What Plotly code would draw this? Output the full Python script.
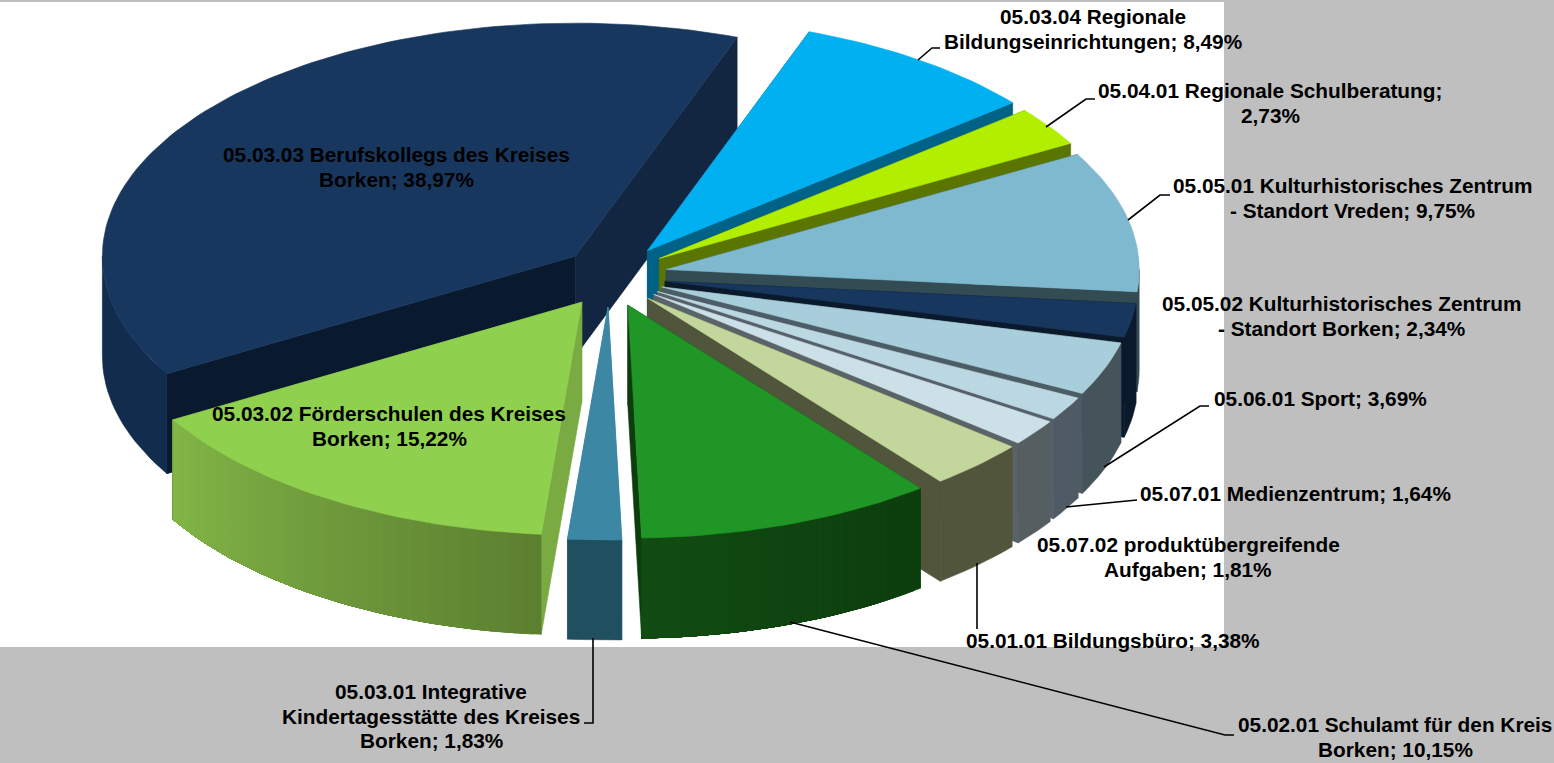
import math
import plotly.graph_objects as go

W, H = 1554, 763
# ---- data (clockwise, starting at the first angle below)
categories = [
    "05.03.04 Regionale<br>Bildungseinrichtungen",
    "05.04.01 Regionale Schulberatung;<br>",
    "05.05.01 Kulturhistorisches Zentrum<br>- Standort Vreden",
    "05.05.02 Kulturhistorisches Zentrum<br>- Standort Borken",
    "05.06.01 Sport",
    "05.07.01 Medienzentrum",
    "05.07.02 produktübergreifende<br>Aufgaben",
    "05.01.01 Bildungsbüro",
    "05.02.01 Schulamt für den Kreis<br>Borken",
    "05.03.01 Integrative<br>Kindertagesstätte des Kreises<br>Borken",
    "05.03.02 Förderschulen des Kreises<br>Borken",
    "05.03.03 Berufskollegs des Kreises<br>Borken",
]
values = [8.49, 2.73, 9.75, 2.34, 3.69, 1.64, 1.81, 3.38, 10.15, 1.83, 15.22, 38.97]

# ---- styles
top_colors = ["#00b0f0", "#b2ee00", "#7fb9d0", "#17375e", "#a9cedb", "#bbd7e2", "#cce0e8",
              "#c3d69b", "#1f9625", "#3c87a3", "#8fd04f", "#17375e"]
wall_left = ["#006286", "#5a7500", "#334b52", "#0a1a2c", "#45535a", "#4f5a64", "#555e60",
             "#50553c", "#114c13", "#204f5f", "#82b647", "#122c4e"]
wall_right = ["#006286", "#5a7500", "#334b52", "#0a1a2c", "#45535a", "#4f5a64", "#555e60",
              "#50553c", "#0d3d0d", "#204f5f", "#5c7f30", "#122c4e"]
cut_start = ["#006286", "#5a7500", "#334b52", "#0a1a2c", "#4d5d66", "#55606a", "#5a6468",
             "#50553c", "#0d3d0d", "#3c87a3", "#79ab42", "#0a1a2e"]
cut_end = ["#006286", "#5a7500", "#334b52", "#0a1a2c", "#4d5d66", "#55606a", "#5a6468",
           "#50553c", "#0d3d0d", "#3c87a3", "#79ab42", "#122642"]
draw_order = [11, 0, 1, 2, 3, 4, 5, 6, 7, 8, 10, 9]
label_pos = [(1093, 29), (1270, 103), (1352, 198), (1341, 316), (1320, 398), (1295, 493),
             (1188, 557), (1113, 640), (1395, 737), (431, 716), (389, 426), (396, 167)]
leaders = [
    [(918, 60), (932, 48), (940, 48)],
    [(1046, 127), (1086, 99), (1095, 99)],
    [(1128, 220), (1160, 195), (1170, 195)],
    [(1104, 467), (1200, 406), (1209, 406)],
    [(1066, 507), (1132, 500), (1137, 500)],
    [(977, 563), (977, 629)],
    [(790, 622), (1225, 735), (1234, 735)],
    [(593, 638), (593, 723), (584, 723)],
]

# ---- pie geometry
START = 20.0
CX, CY = 613.5, 276
RX, RY = 473, 233
EX, EY = 53, 31
SKEW = 4
DEPTH = 100
BG = "#bfbfbf"
LINE_PITCH = 24.7


def mix(a, b, t):
    ca = [int(a[i:i + 2], 16) for i in (1, 3, 5)]
    cb = [int(b[i:i + 2], 16) for i in (1, 3, 5)]
    return "#%02x%02x%02x" % tuple(round(x + (y - x) * t) for x, y in zip(ca, cb))


fig = go.Figure()


def poly(pts, color):
    xs = [p[0] for p in pts] + [pts[0][0]]
    ys = [p[1] for p in pts] + [pts[0][1]]
    fig.add_trace(go.Scatter(x=xs, y=ys, mode="lines", fill="toself", fillcolor=color,
                             line=dict(color=color, width=0.6), hoverinfo="skip",
                             showlegend=False))


edges = [START]
for v in values:
    edges.append(edges[-1] + v * 3.6)

for i in draw_order:
    a0, a1 = edges[i], edges[i + 1]
    mid = math.radians((a0 + a1) / 2)
    ax = CX + EX * math.sin(mid) + SKEW * math.cos(mid)
    ay = CY - EY * math.cos(mid)

    def rim(deg):
        t = math.radians(deg)
        return (ax + RX * math.sin(t), ay - RY * math.cos(t))

    def down(p):
        return (p[0], p[1] + DEPTH)

    p0, p1 = rim(a0), rim(a1)
    apex = (ax, ay)
    poly([apex, p0, down(p0), down(apex)], cut_start[i])
    poly([apex, p1, down(p1), down(apex)], cut_end[i])
    # outer wall, only where it faces the viewer
    w0, w1 = max(a0, 90), min(a1, 270)
    if w1 > w0:
        n = 1 if wall_left[i] == wall_right[i] else max(1, math.ceil(w1 - w0))
        for k in range(n):
            d0 = w0 + (w1 - w0) * k / n
            m = max(2, math.ceil((w1 - d0) / 1.5))
            arc = [rim(d0 + (w1 - d0) * j / m) for j in range(m + 1)]
            poly(arc + [down(q) for q in reversed(arc)],
                 mix(wall_right[i], wall_left[i], (k + .5) / n))
    n = max(2, math.ceil((a1 - a0) / 1.5))
    poly([apex] + [rim(a0 + (a1 - a0) * k / n) for k in range(n + 1)], top_colors[i])

for pts in leaders:
    fig.add_trace(go.Scatter(x=[p[0] for p in pts], y=[p[1] for p in pts], mode="lines",
                             line=dict(color="#000000", width=1.6), hoverinfo="skip",
                             showlegend=False))

annotations = []
for cat, val, (lx, ly) in zip(categories, values, label_pos):
    num = f"{val:.2f}".replace(".", ",") + "%"
    text = cat + num if cat.endswith(";<br>") else f"{cat}; {num}"
    lines = text.split("<br>")
    for j, line in enumerate(lines):
        annotations.append(dict(
            x=lx, y=ly + (j - (len(lines) - 1) / 2) * LINE_PITCH, text="<b>" + line + "</b>",
            showarrow=False, xanchor="center", yanchor="middle", align="center",
            font=dict(family="Liberation Sans", size=20.8, color="#000000")))

fig.update_layout(
    width=W, height=H, autosize=False,
    margin=dict(l=0, r=0, t=0, b=0, pad=0),
    paper_bgcolor=BG, plot_bgcolor=BG,
    xaxis=dict(range=[0, W], visible=False, fixedrange=True),
    yaxis=dict(range=[H, 0], visible=False, fixedrange=True),
    shapes=[dict(type="rect", xref="x", yref="y", x0=0, x1=1224, y0=2, y1=647,
                 fillcolor="#ffffff", line=dict(width=0), layer="below")],
    annotations=annotations,
    showlegend=False,
)
fig.write_html("out.html", config=dict(displayModeBar=False),
               post_script="document.body.style.margin='0';document.body.style.overflow='hidden';")
